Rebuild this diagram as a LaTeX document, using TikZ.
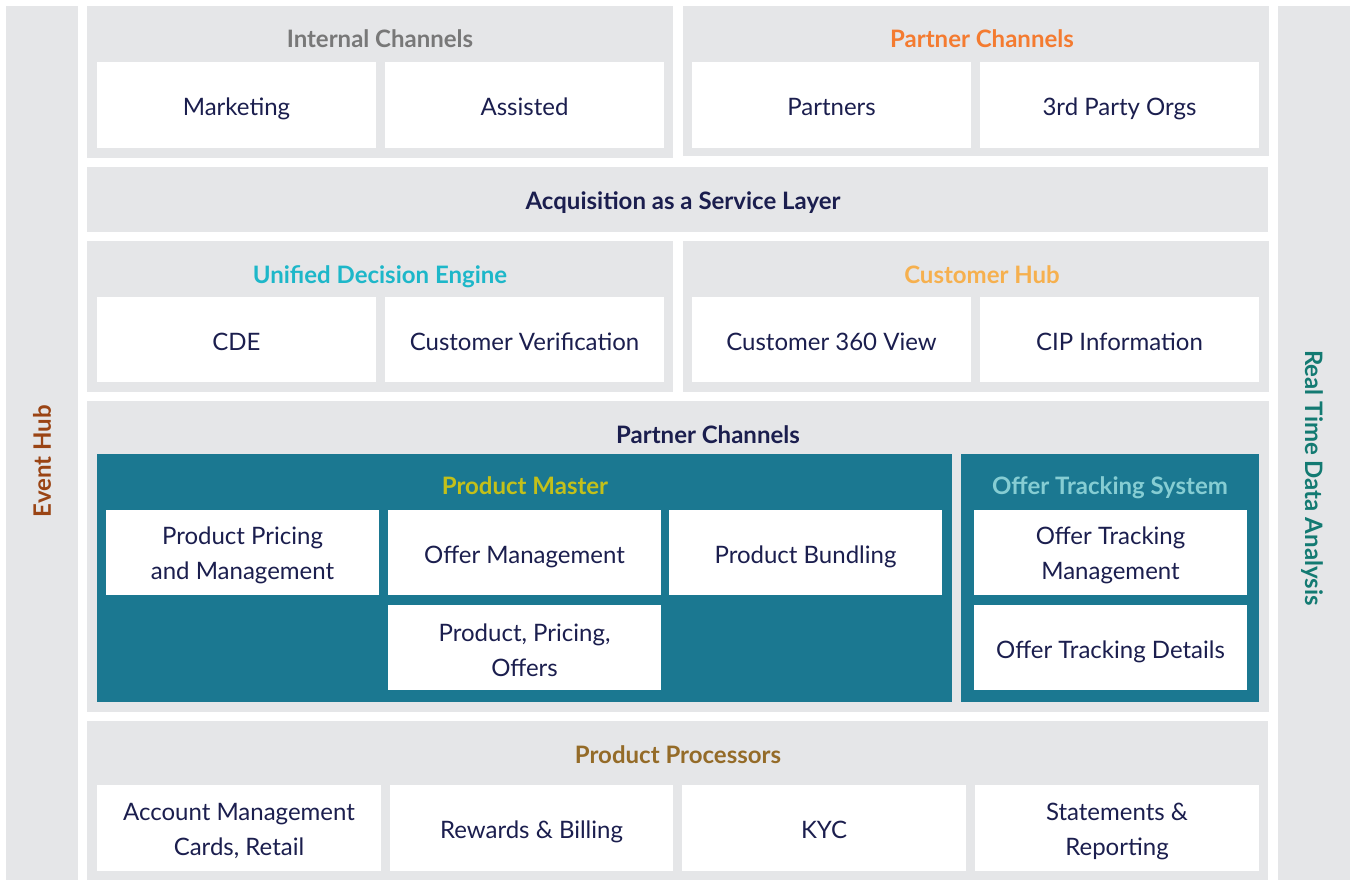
\documentclass[tikz,border=0pt]{standalone}
\usepackage{fontspec}
\setmainfont{Lato}
\definecolor{bg}{HTML}{E5E6E8}
\definecolor{tealbox}{HTML}{1B7891}
\definecolor{navy}{HTML}{1B1E4E}
\definecolor{greyhead}{HTML}{787878}
\definecolor{orangehead}{HTML}{F47B30}
\definecolor{cyanhead}{HTML}{1DB7C9}
\definecolor{lightorange}{HTML}{F6B04E}
\definecolor{olive}{HTML}{C3C01A}
\definecolor{lightteal}{HTML}{86CDD3}
\definecolor{goldbrown}{HTML}{946B28}
\definecolor{rust}{HTML}{9A4414}
\definecolor{darkteal}{HTML}{137A72}
% box from (x1,y1) to (x2,y2) in pixels: #1 style, #2 name, #3..#6 coords, #7 text
\newcommand\pxbox[7]{%
  \pgfmathsetmacro\bxc{(#3+#5)/2}%
  \pgfmathsetmacro\byc{(#4+#6)/2}%
  \pgfmathsetmacro\bxw{(#5-#3)*0.75}%
  \pgfmathsetmacro\bxh{(#6-#4)*0.75}%
  \node[#1, minimum width=\bxw pt, minimum height=\bxh pt] (#2) at (\bxc,\byc) {#7};}
\begin{document}
\begin{tikzpicture}[x=0.75pt,y=-0.75pt,
  panel/.style={fill=bg, draw=none, inner sep=0pt},
  tealpanel/.style={fill=tealbox, draw=none, inner sep=0pt},
  wbox/.style={fill=white, draw=none, inner sep=0pt, align=center, text=navy,
    font=\fontsize{18}{26.25}\selectfont},
  wone/.style={wbox, text height=16pt, text depth=0pt},
  wtxt/.style={inner sep=0pt, align=center, text=navy,
    font=\fontsize{18}{26.25}\selectfont},
  head/.style={inner sep=0pt, anchor=base, font=\fontsize{18}{22}\selectfont\bfseries},
  side/.style={inner sep=0pt, font=\fontsize{18}{22}\selectfont\bfseries}]
\useasboundingbox (0,0) rectangle (1351,880);
\fill[white] (0,0) rectangle (1351,880);

% side bars
\pxbox{panel}{lbar}{6}{6}{78}{880}{}
\pxbox{panel}{rbar}{1278}{6}{1350}{880}{}
\node[side, text=rust, rotate=90] (eventhub) at (42,461) {Event Hub};
\node[side, text=darkteal, rotate=-90] (rtda) at (1312,478) {Real Time Data Analysis};

% top row
\pxbox{panel}{intp}{87}{6}{673}{158}{}
\pxbox{panel}{partp}{683}{6}{1269}{156}{}
\node[head, text=greyhead] (inth) at (380,48) {Internal Channels};
\node[head, text=orangehead] (parth) at (982,48) {Partner Channels};
\pxbox{wone}{mkt}{97}{62}{376}{148}{Marketing}
\pxbox{wone}{ass}{385}{62}{664}{148}{Assisted}
\pxbox{wone}{prt}{692}{62}{971}{148}{Partners}
\pxbox{wone}{tpo}{980}{62}{1259}{148}{3rd Party Orgs}

% acquisition layer
\pxbox{panel}{acq}{87}{167}{1268}{232}{}
\node[head, text=navy] (acqh) at (683,210) {Acquisition as a Service Layer};

% decision engine / customer hub
\pxbox{panel}{udep}{87}{241}{673}{392}{}
\pxbox{panel}{chp}{683}{241}{1269}{392}{}
\node[head, text=cyanhead] (udeh) at (380,284) {Unified Decision Engine};
\node[head, text=lightorange] (chh) at (982,284) {Customer Hub};
\pxbox{wone}{cde}{97}{297}{376}{382}{CDE}
\pxbox{wone}{cv}{385}{297}{664}{382}{Customer Verification}
\pxbox{wone}{c360}{692}{297}{971}{382}{Customer 360 View}
\pxbox{wone}{cip}{980}{297}{1259}{382}{CIP Information}

% partner channels big panel
\pxbox{panel}{pcp}{87}{401}{1269}{712}{}
\node[head, text=navy] (pch) at (708,443) {Partner Channels};
\pxbox{tealpanel}{pm}{97}{454}{952}{702}{}
\pxbox{tealpanel}{ots}{961}{454}{1259}{702}{}
\node[head, text=olive] (pmh) at (525,494) {Product Master};
\node[head, text=lightteal] (otsh) at (1110,494) {Offer Tracking System};
\pxbox{wbox}{ppm}{106}{510}{379}{595}{}
\node[wtxt] (ppmt) at ([yshift=-2.25pt]ppm.center) {Product Pricing\\and Management};
\pxbox{wone}{om}{388}{510}{661}{595}{Offer Management}
\pxbox{wone}{pb}{669}{510}{942}{595}{Product Bundling}
\pxbox{wbox}{ppo}{388}{605}{661}{690}{}
\node[wtxt] (ppot) at ([yshift=-2.25pt]ppo.center) {Product, Pricing,\\Offers};
\pxbox{wbox}{otm}{974}{510}{1247}{595}{}
\node[wtxt] (otmt) at ([yshift=-2.25pt]otm.center) {Offer Tracking\\Management};
\pxbox{wone}{otd}{974}{605}{1247}{690}{Offer Tracking Details}

% product processors
\pxbox{panel}{procp}{87}{721}{1268}{880}{}
\node[head, text=goldbrown] (proch) at (678,763) {Product Processors};
\pxbox{wbox}{am}{97}{785}{381}{871}{}
\node[wtxt] (amt) at ([yshift=-2.25pt]am.center) {Account Management\\Cards, Retail};
\pxbox{wone}{rb}{390}{785}{673}{871}{Rewards \& Billing}
\pxbox{wone}{kyc}{682}{785}{966}{871}{KYC}
\pxbox{wbox}{sr}{975}{785}{1259}{871}{}
\node[wtxt] (srt) at ([yshift=-2.25pt]sr.center) {Statements \&\\Reporting};
\end{tikzpicture}
\end{document}
